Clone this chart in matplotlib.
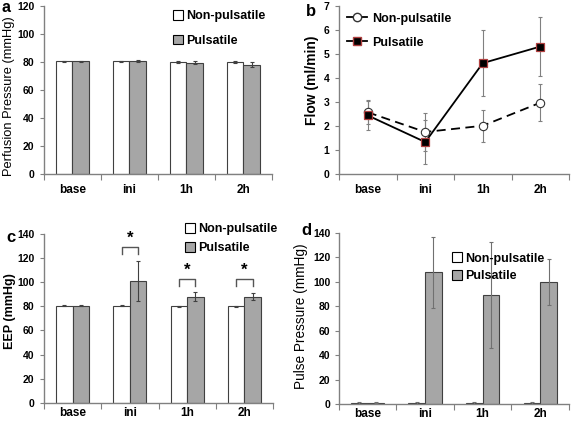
import matplotlib
matplotlib.use("Agg")
import matplotlib.pyplot as plt
import numpy as np
from matplotlib.lines import Line2D
from matplotlib.patches import Patch

plt.rcParams['font.family'] = ['Liberation Sans', 'DejaVu Sans']

categories = ["base", "ini", "1h", "2h"]

# Panel a: perfusion pressure
pp_non = [80.5, 80.5, 80.0, 80.0]
pp_non_err = [0.3, 0.4, 0.5, 0.8]
pp_pul = [80.5, 80.5, 79.5, 78.0]
pp_pul_err = [0.2, 0.8, 1.2, 1.8]

# Panel b: flow
flow_non = [2.57, 1.75, 2.01, 2.97]
flow_non_err = [0.5, 0.78, 0.67, 0.78]
flow_pul = [2.44, 1.33, 4.62, 5.31]
flow_pul_err = [0.6, 0.9, 1.38, 1.24]

# Panel c: EEP
eep_non = [80.5, 80.5, 80.0, 80.0]
eep_non_err = [0.2, 0.2, 0.5, 0.6]
eep_pul = [80.5, 101.0, 88.0, 88.0]
eep_pul_err = [0.3, 17.0, 3.5, 3.0]
eep_sig = [False, True, True, True]
eep_sig_level = [None, 129.5, 103.0, 103.0]

# Panel d: pulse pressure
pulse_non = [1.0, 1.0, 1.0, 1.0]
pulse_non_err = [0.8, 0.8, 0.8, 0.8]
pulse_pul = [1.0, 107.5, 89.0, 99.5]
pulse_pul_err = [0.6, 29.0, 43.5, 19.0]

GRAY = "#a6a6a6"
EDGE = "#404040"
SPINE = "#808080"
W, H = 572.0, 422.0

fig = plt.figure(figsize=(5.72, 4.22), dpi=100)

def style_axes(ax, ymax, ystep, xpad):
    ax.spines['top'].set_visible(False)
    ax.spines['right'].set_visible(False)
    for s in ('left', 'bottom'):
        ax.spines[s].set_color(SPINE)
        ax.spines[s].set_linewidth(1.0)
    ax.set_xlim(-0.5, 3.5)
    ax.set_ylim(0, ymax)
    ax.set_yticks(np.arange(0, ymax + 0.001, ystep))
    ax.set_xticks(np.arange(-0.5, 3.6, 1.0))
    ax.set_xticklabels([])
    ax.set_xticks(np.arange(4), minor=True)
    ax.set_xticklabels(categories, minor=True, fontsize=8.5, fontweight='bold')
    ax.tick_params(axis='x', which='major', length=4, color=SPINE, direction='out')
    ax.tick_params(axis='x', which='minor', length=0, pad=xpad)
    ax.tick_params(axis='y', length=3, color=SPINE, labelsize=7.5, pad=4)
    for lab in ax.get_yticklabels():
        lab.set_fontweight('bold')

def bar_panel(ax, non, non_err, pul, pul_err, ecolor=EDGE):
    x = np.arange(len(categories))
    w = 0.29
    ax.bar(x - w / 2, non, w, color='white', edgecolor=EDGE, linewidth=0.8,
           yerr=non_err, ecolor=ecolor, capsize=1.5, error_kw=dict(elinewidth=0.8, capthick=0.8), zorder=2)
    ax.bar(x + w / 2, pul, w, color=GRAY, edgecolor=EDGE, linewidth=0.8,
           yerr=pul_err, ecolor=ecolor, capsize=1.5, error_kw=dict(elinewidth=0.8, capthick=0.8), zorder=2)
    return w

def bar_legend(ax, bbox, spacing):
    handles = [Patch(facecolor='white', edgecolor='black', linewidth=0.8),
               Patch(facecolor=GRAY, edgecolor='black', linewidth=0.8)]
    leg = ax.legend(handles, ["Non-pulsatile", "Pulsatile"], loc='upper left', bbox_to_anchor=bbox,
                    frameon=False, handlelength=0.8, handleheight=0.8, handletextpad=0.3,
                    labelspacing=spacing, prop=dict(size=9, weight='bold'), borderaxespad=0,
                    borderpad=0)
    return leg

def ylab(x, y, s, weight, size):
    fig.text(x / W, 1 - y / H, s, rotation=90, ha='center', va='center',
             fontsize=size, fontweight=weight)

# ---- Panel a ----
axa = fig.add_axes([0.0769, 0.5877, 0.3986, 0.3981])
bar_panel(axa, pp_non, pp_non_err, pp_pul, pp_pul_err)
style_axes(axa, 120, 20, 7)
ylab(9, 96, "Perfusion Pressure (mmHg)", 'normal', 9.3)
bar_legend(axa, (0.565, 0.975), 1.0)
fig.text(0.002, 1.0, "a", fontsize=11.5, fontweight='bold', va='top')

# ---- Panel b ----
axb = fig.add_axes([0.5927, 0.5877, 0.4021, 0.3981])
x = np.arange(len(categories))
axb.errorbar(x, flow_non, yerr=flow_non_err, fmt='none', ecolor='#808080', elinewidth=0.8,
             capsize=1.5, capthick=0.8, zorder=2)
axb.errorbar(x, flow_pul, yerr=flow_pul_err, fmt='none', ecolor='#808080', elinewidth=0.8,
             capsize=1.5, capthick=0.8, zorder=2)
axb.plot(x, flow_non, linestyle=(0, (5, 3)), color='black', linewidth=1.3, marker='o',
         markersize=6, markerfacecolor='white', markeredgecolor='#333333', markeredgewidth=0.8, zorder=3)
axb.plot(x, flow_pul, linestyle='-', color='black', linewidth=1.3, marker='s',
         markersize=6, markerfacecolor='black', markeredgecolor='#b04040', markeredgewidth=0.9, zorder=4)
style_axes(axb, 7, 1, 7)
ylab(312, 80, "Flow (ml/min)", 'bold', 10)
hb = [Line2D([], [], color='black', linewidth=1.3, marker='o', markersize=6,
             markerfacecolor='white', markeredgecolor='#333333'),
      Line2D([], [], color='black', linewidth=1.3, marker='s', markersize=6,
             markerfacecolor='black', markeredgecolor='#b04040')]
axb.legend(hb, ["Non-pulsatile", "Pulsatile"], loc='upper left', bbox_to_anchor=(0.035, 0.96),
           frameon=False, handlelength=1.6, handletextpad=0.4, labelspacing=0.95,
           prop=dict(size=9, weight='bold'), borderaxespad=0, borderpad=0)
fig.text(0.535, 0.99, "b", fontsize=12, fontweight='bold', va='top')

# ---- Panel c ----
axc = fig.add_axes([0.0769, 0.0457, 0.4004, 0.3998])
w = bar_panel(axc, eep_non, eep_non_err, eep_pul, eep_pul_err)
style_axes(axc, 140, 20, 3)
ylab(10, 311, "EEP (mmHg)", 'bold', 9)
for i, (sig, lvl) in enumerate(zip(eep_sig, eep_sig_level)):
    if sig:
        x0, x1 = i - w / 2, i + w / 2
        axc.plot([x0, x0, x1, x1], [lvl - 6, lvl, lvl, lvl - 6], color='#555555', linewidth=1.0,
                 clip_on=False)
        axc.text(i, lvl + 1, "*", ha='center', va='bottom', fontsize=12, fontweight='bold')
bar_legend(axc, (0.615, 1.065), 0.55)
fig.text(0.012, 0.455, "c", fontsize=12, fontweight='bold', va='top')

# ---- Panel d ----
axd = fig.add_axes([0.5921, 0.0427, 0.4027, 0.4059])
bar_panel(axd, pulse_non, pulse_non_err, pulse_pul, pulse_pul_err, ecolor='#707070')
style_axes(axd, 140, 20, 3)
axd.tick_params(axis='y', pad=3)
ylab(301, 316, "Pulse Pressure (mmHg)", 'normal', 9.8)
bar_legend(axd, (0.49, 0.885), 0.45)
fig.text(0.527, 0.472, "d", fontsize=12, fontweight='bold', va='top')

fig.savefig("out.png", dpi=100)
